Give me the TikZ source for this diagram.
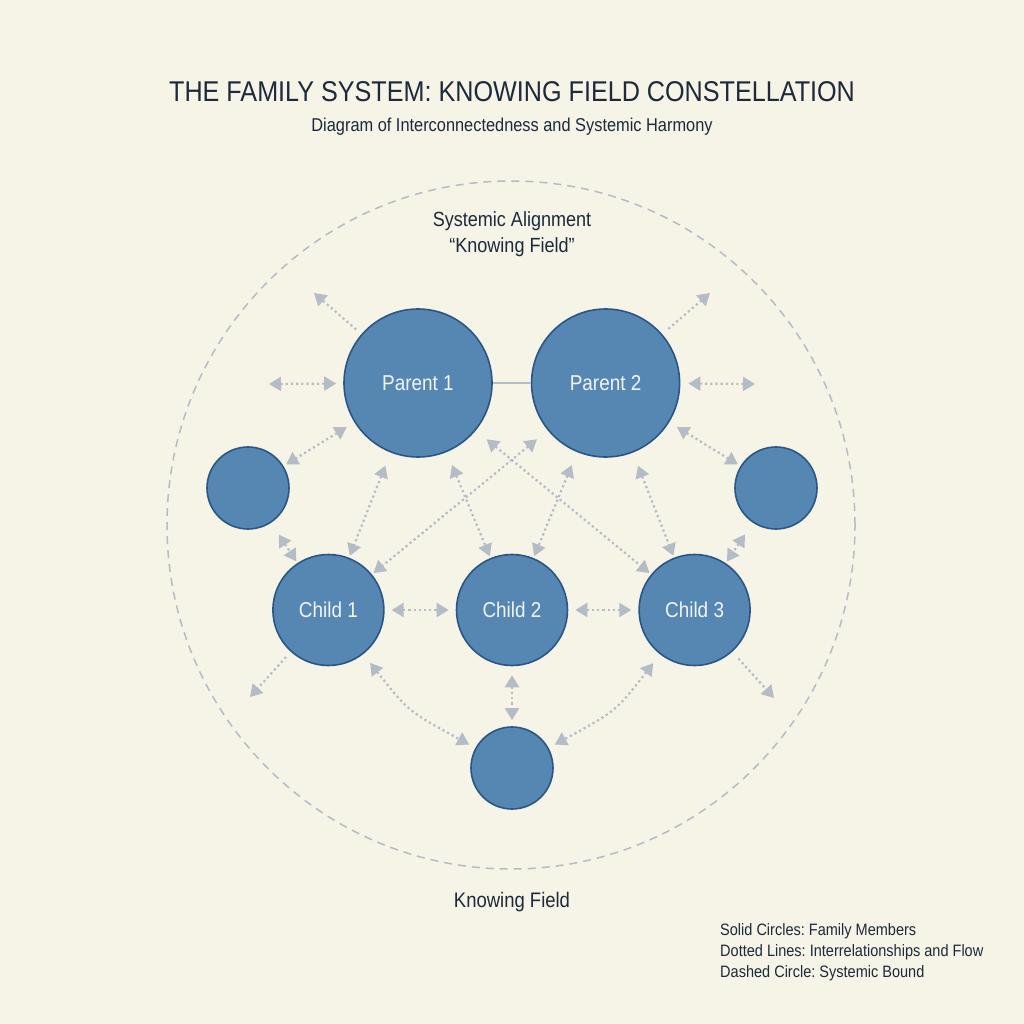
\documentclass[tikz,border=0pt]{standalone}
\usepackage{fontspec}
\setmainfont{Liberation Sans}[FakeStretch=0.88]
\frenchspacing
\definecolor{paper}{RGB}{246,243,231}
\definecolor{memberblue}{RGB}{85,135,178}
\definecolor{edgeblue}{RGB}{42,86,134}
\definecolor{linkgray}{RGB}{180,188,197}
\definecolor{inkdark}{RGB}{28,42,60}
\usetikzlibrary{arrows.meta, positioning}

\begin{document}
\begin{tikzpicture}[x=1pt, y=-1pt, >={Triangle[length=12pt, width=14pt]},
        every node/.style={text=inkdark},
        member/.style={circle, draw=edgeblue, line width=1.6pt, fill=memberblue, inner sep=0pt, text=white!92!memberblue, font=\fontsize{21.5}{24}\selectfont},
        link/.style={<->, draw=linkgray, line width=2.2pt, dash pattern=on 2.2pt off 3pt, shorten <=4pt, shorten >=4pt}]
        \useasboundingbox (0,0) rectangle (1024,1024);
        \fill[paper] (0,0) rectangle (1024,1024);
        \node[font=\fontsize{28.6}{32}\selectfont] (title) at (512,92) {THE FAMILY SYSTEM: KNOWING FIELD CONSTELLATION};
        \node[font=\fontsize{18.6}{22}\selectfont] (sub) at (512,127) {Diagram of Interconnectedness and Systemic Harmony};
        \node[circle, draw=linkgray, line width=1.5pt, dash pattern=on 8pt off 6pt, minimum size=688pt] (field) at (511,525) {};
        \node[align=center, font=\fontsize{20.5}{26}\selectfont] (align) at (512,234) {Systemic Alignment\\“Knowing Field”};
        \node[font=\fontsize{21}{24}\selectfont] (fieldname) at (512,902) {Knowing Field};
        \node[anchor=north west, align=left, inner sep=0pt, font=\fontsize{16.5}{21}\selectfont] (key) at (720,923) {Solid Circles: Family Members\\Dotted Lines: Interrelationships and Flow\\Dashed Circle: Systemic Bound};

        \node[member, minimum size=148pt] (P1) at (418,383) {Parent 1};
        \node[member, minimum size=148pt, right=38pt of P1] (P2) {Parent 2};
        \node[member, minimum size=82pt] (L) at (248,488) {};
        \node[member, minimum size=82pt] (R) at (776,488) {};
        \node[member, minimum size=111pt] (C2) at (512,610) {Child 2};
        \node[member, minimum size=111pt, left=71pt of C2] (C1) {Child 1};
        \node[member, minimum size=111pt, right=70pt of C2] (C3) {Child 3};
        \node[member, minimum size=82pt] (B) at (512,768) {};

        \coordinate (W1) at (269,384);
        \coordinate (E1) at (755,384);
        \coordinate (N1) at (314,293);
        \coordinate (N2) at (710,293);
        \coordinate (S1) at (250,697);
        \coordinate (S2) at (774,698);
        \coordinate (K1) at (408,711);
        \coordinate (K2) at (616,711);

        \draw[linkgray, line width=1.8pt] (P1) -- (P2);
        \draw[link, shorten <=0pt, shorten >=7pt] (W1) -- (P1);
        \draw[link, shorten <=8pt, shorten >=0pt] (P2) -- (E1);
        \draw[link, ->, shorten <=7pt, shorten >=0pt] (P1) -- (N1);
        \draw[link, ->, shorten <=8pt, shorten >=0pt] (P2) -- (N2);
        \draw[link, ->, shorten <=7pt, shorten >=0pt] (C1) -- (S1);
        \draw[link, ->, shorten <=9pt, shorten >=0pt] (C3) -- (S2);
        \draw[link, shorten <=9pt, shorten >=3pt] (P1) -- (L);
        \draw[link, shorten <=9pt, shorten >=3pt] (P2) -- (R);
        \draw[link, shorten <=14pt, shorten >=2pt] (L) -- (C1);
        \draw[link, shorten <=14pt, shorten >=2pt] (R) -- (C3);
        \foreach \p in {P1,P2}
          \foreach \c in {C1,C2,C3}
            \draw[link, shorten <=14pt, shorten >=2pt] (\p) -- (\c);
        \draw[link, shorten <=7pt, shorten >=7pt] (C1) -- (C2);
        \draw[link, shorten <=7pt, shorten >=7pt] (C2) -- (C3);
        \draw[link, shorten <=9pt, shorten >=6pt] (C2) -- (B);
        \draw[link, shorten <=11pt, shorten >=7pt] (C1) .. controls (K1) .. (B);
        \draw[link, shorten <=11pt, shorten >=7pt] (C3) .. controls (K2) .. (B);
      \end{tikzpicture}
\end{document}
